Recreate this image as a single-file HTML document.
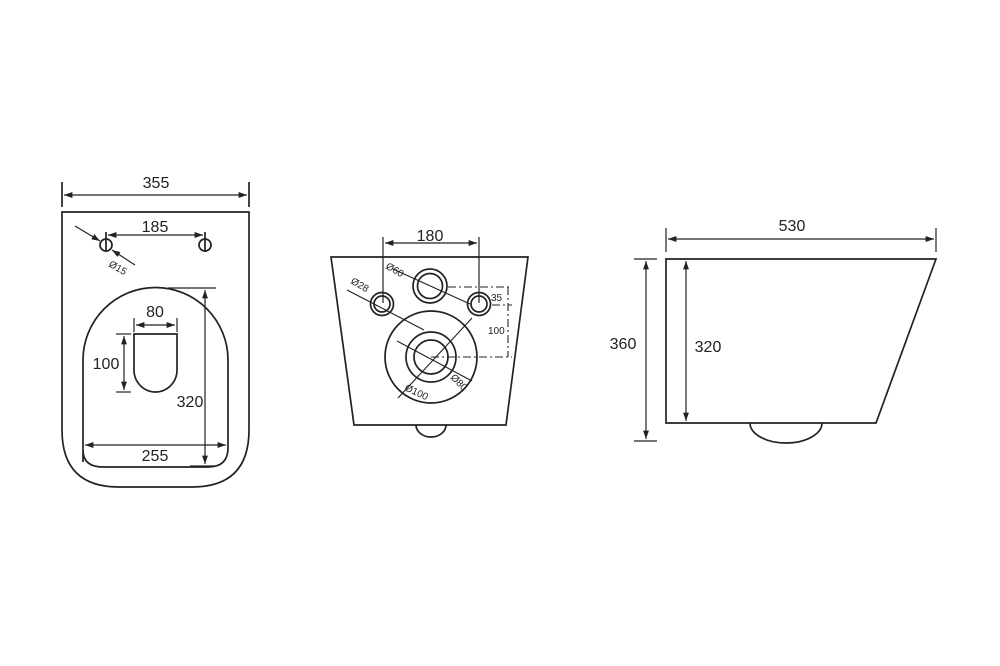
<!DOCTYPE html>
<html><head><style>html,body{margin:0;padding:0;background:#fff}svg{display:block}text{font-family:"Liberation Sans",sans-serif;fill:#222}</style></head>
<body>
<svg width="1000" height="666" viewBox="0 0 1000 666" xmlns="http://www.w3.org/2000/svg">
<defs>
<marker id="a" viewBox="0 0 10 10" refX="10" refY="5" markerWidth="7" markerHeight="7" orient="auto-start-reverse"><path d="M0,1.5 L10,5 L0,8.5 z" fill="#222"/></marker>
</defs>
<g stroke="#222" stroke-width="1.7" fill="none">
<!-- LEFT VIEW -->
<path d="M62,212 H249 V430 Q249,487 192,487 H119 Q62,487 62,430 Z"/>
<line x1="62" y1="182" x2="62" y2="207"/><line x1="249" y1="182" x2="249" y2="207"/>
<line x1="64" y1="195" x2="247" y2="195" marker-start="url(#a)" marker-end="url(#a)" stroke-width="1.2"/>
<circle cx="106" cy="245" r="6"/><circle cx="205" cy="245" r="6"/>
<line x1="106" y1="232" x2="106" y2="252"/><line x1="205" y1="232" x2="205" y2="252"/>
<line x1="108" y1="235" x2="203" y2="235" marker-start="url(#a)" marker-end="url(#a)" stroke-width="1.2"/>
<line x1="75" y1="226" x2="100" y2="241" marker-end="url(#a)" stroke-width="1.2"/>
<line x1="135" y1="265" x2="112" y2="250" marker-end="url(#a)" stroke-width="1.2"/>
<path d="M83,462 V360 A72.5,72.5 0 0 1 228,360 V448 Q228,467 208,467 H103 Q83,467 83,450"/>
<line x1="85" y1="445" x2="226" y2="445" marker-start="url(#a)" marker-end="url(#a)" stroke-width="1.2"/>
<line x1="168" y1="288" x2="216" y2="288" stroke-width="1.2"/><line x1="190" y1="466" x2="216" y2="466" stroke-width="1.2"/>
<line x1="205" y1="290" x2="205" y2="464" marker-start="url(#a)" marker-end="url(#a)" stroke-width="1.2"/>
<path d="M134,334 H177 V370 A21.5,22 0 0 1 134,370 Z"/>
<line x1="134" y1="318" x2="134" y2="332" stroke-width="1.2"/><line x1="177" y1="318" x2="177" y2="332" stroke-width="1.2"/>
<line x1="136" y1="325" x2="175" y2="325" marker-start="url(#a)" marker-end="url(#a)" stroke-width="1.2"/>
<line x1="116" y1="334" x2="131" y2="334" stroke-width="1.2"/><line x1="116" y1="392" x2="131" y2="392" stroke-width="1.2"/>
<line x1="124" y1="336" x2="124" y2="390" marker-start="url(#a)" marker-end="url(#a)" stroke-width="1.2"/>
<!-- MIDDLE VIEW -->
<path d="M331,257 H528 L506,425 H354 Z"/>
<path d="M416,425 A15,12 0 0 0 446,425"/>
<line x1="383" y1="237" x2="383" y2="303" stroke-width="1.2"/><line x1="479" y1="237" x2="479" y2="303" stroke-width="1.2"/>
<line x1="385" y1="243" x2="477" y2="243" marker-start="url(#a)" marker-end="url(#a)" stroke-width="1.2"/>
<circle cx="382" cy="304" r="11.5"/><circle cx="382" cy="304" r="8"/>
<circle cx="479" cy="304" r="11.5"/><circle cx="479" cy="304" r="8"/>
<circle cx="430" cy="286" r="17"/><circle cx="430" cy="286" r="12.5"/>
<circle cx="431" cy="357" r="46"/><circle cx="431" cy="357" r="25"/><circle cx="431" cy="357" r="17"/>
<g stroke-width="1.1">
<line x1="393" y1="269" x2="470" y2="304"/>
<line x1="347" y1="290" x2="424" y2="330"/>
<line x1="397" y1="341" x2="472" y2="381"/>
<line x1="398" y1="398" x2="472" y2="318"/>
</g>
<g stroke-width="1.1" stroke-dasharray="8,3,2,3">
<line x1="448" y1="287" x2="512" y2="287"/>
<line x1="492" y1="305" x2="512" y2="305"/>
<line x1="431" y1="357" x2="512" y2="357"/>
<line x1="508" y1="287" x2="508" y2="357"/>
</g>
<!-- RIGHT VIEW -->
<path d="M666,259 H936 L876,423 H666 Z"/>
<path d="M750,423 A36,20 0 0 0 822,423"/>
<line x1="666" y1="228" x2="666" y2="252" stroke-width="1.2"/><line x1="936" y1="228" x2="936" y2="252" stroke-width="1.2"/>
<line x1="668" y1="239" x2="934" y2="239" marker-start="url(#a)" marker-end="url(#a)" stroke-width="1.2"/>
<line x1="634" y1="259" x2="657" y2="259" stroke-width="1.2"/><line x1="634" y1="441" x2="657" y2="441" stroke-width="1.2"/>
<line x1="646" y1="261" x2="646" y2="439" marker-start="url(#a)" marker-end="url(#a)" stroke-width="1.2"/>
<line x1="686" y1="261" x2="686" y2="421" marker-start="url(#a)" marker-end="url(#a)" stroke-width="1.2"/>
</g>
<g font-size="16" text-anchor="middle">
<text x="156" y="188">355</text>
<text x="155" y="232">185</text>
<text x="155" y="317">80</text>
<text x="106" y="369">100</text>
<text x="190" y="407">320</text>
<text x="155" y="461">255</text>
<text x="430" y="241">180</text>
<text x="792" y="231">530</text>
<text x="623" y="349">360</text>
<text x="708" y="352">320</text>
</g>
<g font-size="10">
<text x="108" y="266" transform="rotate(30 108 266)">Ø15</text>
<text x="350" y="283" transform="rotate(30 350 283)">Ø28</text>
<text x="385" y="268" transform="rotate(30 385 268)">Ø60</text>
<text x="450" y="378" transform="rotate(45 450 378)">Ø80</text>
<text x="404" y="390" transform="rotate(25 404 390)">Ø100</text>
<text x="491" y="301">35</text>
<text x="488" y="334">100</text>
</g>
</svg>
</body></html>
